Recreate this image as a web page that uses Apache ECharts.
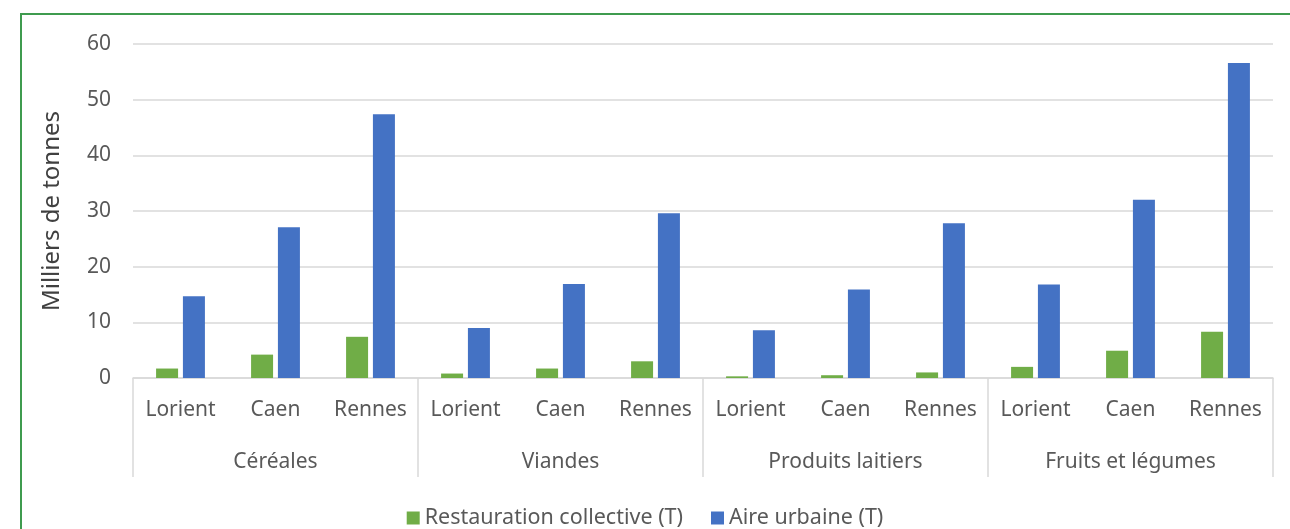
<!DOCTYPE html>
<html>
<head>
<meta charset="utf-8">
<script src="https://cdn.jsdelivr.net/npm/echarts@6/dist/echarts.min.js"></script>
<style>
html,body{margin:0;padding:0;background:#fff;overflow:hidden;}
#chart{width:1290px;height:529px;}
#frame{position:absolute;left:20px;top:13px;width:1400px;height:700px;border:2px solid #3f9b4f;pointer-events:none;}
</style>
</head>
<body>
<div id="chart"></div>
<div id="frame"></div>
<script>
const groups = ['Céréales', 'Viandes', 'Produits laitiers', 'Fruits et légumes'];
const cities = ['Lorient', 'Caen', 'Rennes'];
const categories = ['Lorient','Caen','Rennes','Lorient','Caen','Rennes','Lorient','Caen','Rennes','Lorient','Caen','Rennes'];
const restauration = [1.7, 4.2, 7.4, 0.8, 1.7, 3.0, 0.3, 0.5, 1.0, 2.0, 4.9, 8.3];
const aireUrbaine = [14.7, 27.1, 47.4, 9.0, 16.9, 29.6, 8.6, 15.9, 27.8, 16.8, 32.0, 56.6];
const seriesNames = ['Restauration collective (T)', 'Aire urbaine (T)'];
const yTicks = {min: 0, max: 60, interval: 10};

const FONT = 'Noto Sans';
const chart = echarts.init(document.getElementById('chart'));
chart.setOption({
  animation: false,
  textStyle: {fontFamily: FONT},
  grid: {left: 133, right: 17, top: 44, bottom: 151},
  legend: {
    top: 502, left: 'center', itemWidth: 13, itemHeight: 13, itemGap: 28, icon: 'rect',
    textStyle: {fontSize: 21.5, color: '#595959', fontFamily: FONT},
    data: seriesNames
  },
  xAxis: [
    {
      type: 'category', data: categories, position: 'bottom',
      axisLine: {show: true, lineStyle: {color: '#d9d9d9', width: 1.5}},
      axisTick: {show: false},
      axisLabel: {fontSize: 21, color: '#595959', margin: 22, interval: 0}
    },
    {
      type: 'category', data: groups, position: 'bottom',
      axisLine: {show: false},
      axisTick: {show: true, length: 99, lineStyle: {color: '#d9d9d9', width: 1.5}, alignWithLabel: false},
      axisLabel: {fontSize: 21, color: '#595959', margin: 74, interval: 0}
    }
  ],
  yAxis: {
    type: 'value', min: yTicks.min, max: yTicks.max, interval: yTicks.interval,
    name: 'Milliers de tonnes', nameLocation: 'middle', nameGap: 69,
    nameTextStyle: {fontSize: 24, color: '#404040', fontFamily: FONT},
    axisLine: {show: false}, axisTick: {show: false},
    axisLabel: {fontSize: 21, color: '#595959', margin: 22},
    splitLine: {lineStyle: {color: '#d9d9d9', width: 1.5}}
  },
  series: [
    {name: seriesNames[0], type: 'bar', data: restauration, barWidth: 22, barGap: '22%', itemStyle: {color: '#70ad47'}, xAxisIndex: 0},
    {name: seriesNames[1], type: 'bar', data: aireUrbaine, barWidth: 22, barGap: '22%', itemStyle: {color: '#4472c4'}, xAxisIndex: 0}
  ]
});
</script>
</body>
</html>
